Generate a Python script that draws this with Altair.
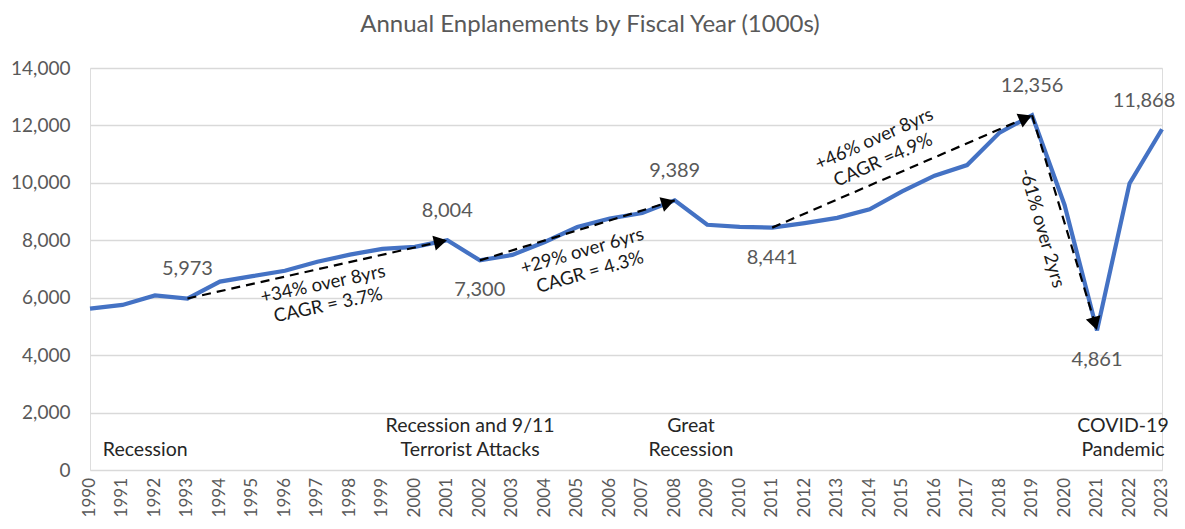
import math
import altair as alt
import pandas as pd

# ---------------- data ----------------
years = list(range(1990, 2024))
enplanements = [5620, 5750, 6080, 5973, 6560, 6750, 6940, 7250, 7500, 7700,
                7770, 8004, 7300, 7490, 7940, 8460, 8760, 8950, 9389, 8540,
                8470, 8441, 8600, 8780, 9080, 9700, 10250, 10620, 11750, 12356,
                9230, 4861, 9980, 11868]

labels_above = [1993, 2001, 2008, 2019]
labels_below = [2002, 2011, 2021]
label_edge = [2023]

arrow_start = [1993, 2002, 2011, 2019]
arrow_end = [2001, 2008, 2019, 2021]

event_lines_1 = ["", "Recession and 9/11", "Great", "COVID-19"]
event_lines_2 = ["Recession", "Terrorist Attacks", "Recession", "Pandemic"]
event_years = [1991.7, 2001.7, 2008.5, 2021.8]

growth_line1 = ["+34% over 8yrs", "+29% over 6yrs", "+46% over 8yrs", "-61% over 2yrs"]
growth_line2 = ["CAGR = 3.7%", "CAGR = 4.3%", "CAGR =4.9%", ""]
growth_x1 = [1997.17, 2005.15, 2014.14, 2019.31]
growth_y1 = [6478, 7627, 11527, 8428]
growth_x2 = [1997.33, 2005.39, 2014.41, 2019.31]
growth_y2 = [5746, 6896, 10796, 8428]
growth_angle = [348, 344, 336, 74]

title = "Annual Enplanements by Fiscal Year (1000s)"

# ---------------- geometry ----------------
W, H = 1072, 402
YMAX = 14000
px_year = W / (years[-1] - years[0])
px_unit = H / YMAX

val = dict(zip(years, enplanements))
df = pd.DataFrame({"year": years, "value": enplanements,
                   "ylab": [str(y) for y in years]})

FONT = "Lato"
GRAY = "#595959"

xs = alt.Scale(domain=[years[0], years[-1]], nice=False, zero=False)
ys = alt.Scale(domain=[0, YMAX], nice=False)

X = alt.X("year:Q", scale=xs, title=None, axis=None)
Y = alt.Y("value:Q", scale=ys, title=None,
          axis=alt.Axis(values=list(range(0, YMAX + 1, 2000)), format=",d",
                        grid=True, gridColor="#d9d9d9", gridWidth=1.3,
                        domain=False, ticks=False, labelPadding=20,
                        labelFontSize=19, labelColor=GRAY, labelFont=FONT))

line = alt.Chart(df).mark_line(color="#4472C4", strokeWidth=4.2,
                               strokeJoin="miter").encode(x=X, y=Y)

# x tick labels (rotated)
xlab = alt.Chart(df).mark_text(font=FONT, fontSize=17, color=GRAY, angle=270,
                               align="right", baseline="middle").encode(
    x=alt.X("year:Q", scale=xs), y=alt.value(H + 8), text="ylab:N")

def sub(yrs):
    return pd.DataFrame({"year": yrs, "value": [val[y] for y in yrs],
                         "label": [f"{val[y]:,}" for y in yrs]})

lab_kw = dict(font=FONT, fontSize=20, color=GRAY, baseline="middle", align="center")
above = alt.Chart(sub(labels_above)).mark_text(dy=-29, **lab_kw).encode(
    x=alt.X("year:Q", scale=xs), y=alt.Y("value:Q", scale=ys), text="label:N")
below = alt.Chart(sub(labels_below)).mark_text(dy=30, **lab_kw).encode(
    x=alt.X("year:Q", scale=xs), y=alt.Y("value:Q", scale=ys), text="label:N")
edge = alt.Chart(sub(label_edge)).mark_text(dy=-28, dx=-18, **lab_kw).encode(
    x=alt.X("year:Q", scale=xs), y=alt.Y("value:Q", scale=ys), text="label:N")

# arrows
rows = []
heads = []
for s, e in zip(arrow_start, arrow_end):
    rows.append({"x": s, "y": val[s], "x2": e, "y2": val[e]})
    dxp = (e - s) * px_year
    dyp = -(val[e] - val[s]) * px_unit
    L = math.hypot(dxp, dyp)
    ang = math.degrees(math.atan2(dxp, -dyp)) % 360
    back = 7.0
    hx = e - (dxp / L) * back / px_year
    hy = val[e] + (dyp / L) * back / px_unit
    heads.append({"x": hx, "y": hy, "angle": ang})
arr = pd.DataFrame(rows)
hd = pd.DataFrame(heads)

dash = alt.Chart(arr).mark_rule(color="black", strokeWidth=2.2,
                                strokeDash=[9, 6]).encode(
    x=alt.X("x:Q", scale=xs), y=alt.Y("y:Q", scale=ys),
    x2="x2:Q", y2="y2:Q")
head = alt.Chart(hd).mark_point(shape="triangle-up", filled=True, color="black",
                                opacity=1, size=230, strokeWidth=0).encode(
    x=alt.X("x:Q", scale=xs), y=alt.Y("y:Q", scale=ys),
    angle=alt.Angle("angle:Q", scale=None))

# growth annotations
g1 = pd.DataFrame({"x": growth_x1, "y": growth_y1, "t": growth_line1, "a": growth_angle})
g2 = pd.DataFrame({"x": growth_x2, "y": growth_y2, "t": growth_line2, "a": growth_angle})
gkw = dict(font=FONT, fontSize=18.5, color="#1a1a1a", align="center", baseline="middle")
grow1 = alt.Chart(g1).mark_text(**gkw).encode(
    x=alt.X("x:Q", scale=xs), y=alt.Y("y:Q", scale=ys), text="t:N",
    angle=alt.Angle("a:Q", scale=None))
grow2 = alt.Chart(g2).mark_text(**gkw).encode(
    x=alt.X("x:Q", scale=xs), y=alt.Y("y:Q", scale=ys), text="t:N",
    angle=alt.Angle("a:Q", scale=None))

# event labels
ev1 = pd.DataFrame({"x": event_years, "y": [1520] * 4, "t": event_lines_1})
ev2 = pd.DataFrame({"x": event_years, "y": [690] * 4, "t": event_lines_2})
ekw = dict(font=FONT, fontSize=19.5, color="#262626", align="center", baseline="middle")
evt1 = alt.Chart(ev1).mark_text(**ekw).encode(
    x=alt.X("x:Q", scale=xs), y=alt.Y("y:Q", scale=ys), text="t:N")
evt2 = alt.Chart(ev2).mark_text(**ekw).encode(
    x=alt.X("x:Q", scale=xs), y=alt.Y("y:Q", scale=ys), text="t:N")

ttl = alt.Chart(pd.DataFrame({"t": [title]})).mark_text(
    font=FONT, fontSize=24, color=GRAY, align="center", baseline="middle").encode(
    x=alt.value(500), y=alt.value(-43), text="t:N")

chart = alt.layer(line, dash, head, above, below, edge, grow1, grow2, evt1, evt2,
                  xlab, ttl).properties(
    width=W, height=H,
    autosize=alt.AutoSizeParams(type="none"),
    padding={"left": 82, "top": 60, "right": 14, "bottom": 50},
).configure_view(stroke=None).configure(background="white")

chart.save("out.html", embed_options={"renderer": "svg", "actions": False})
